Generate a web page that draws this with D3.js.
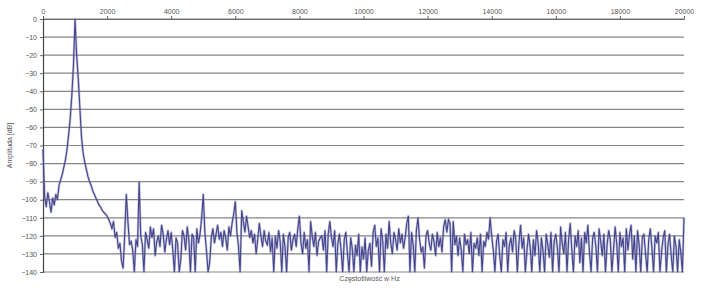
<!DOCTYPE html>
<html lang="en">
<head>
  <meta charset="UTF-8">
  <title>widmo</title>
  <style>
    body { margin: 0; background: #fff; overflow: hidden; }
    .axis text { font-family: "Liberation Sans", Arial, sans-serif; font-size: 7px; fill: #555; }
    .title { font-family: "Liberation Sans", Arial, sans-serif; font-size: 7px; fill: #555; }
  </style>
</head>
<body>
<script src="https://cdn.jsdelivr.net/npm/d3@7"></script>
<script>
// frequency step between samples (Hz)
var step = 50;
// amplitude in dB, one value every 50 Hz from 0 to 20000 Hz (one row = 1000 Hz)
var amplitude = [
  -72, -98, -104, -96, -101, -107, -99, -103, -97, -100, -92, -89, -86, -82, -78, -72, -64, -55, -42, -26,
  0, -20, -33, -49, -65, -74, -79, -83, -87, -90, -92, -95, -97, -99, -101, -103, -104, -106, -107, -108,
  -109, -111, -113, -116, -112, -121, -118, -127, -124, -134, -138, -119, -97, -112, -125, -123, -128, -140, -122, -126,
  -90, -120, -125, -140, -118, -122, -127, -115, -121, -116, -131, -123, -120, -126, -114, -119, -129, -122, -117, -125,
  -118, -128, -140, -121, -124, -140, -133, -117, -120, -128, -115, -122, -140, -119, -121, -140, -116, -124, -119, -110,
  -97, -118, -128, -140, -135, -121, -116, -124, -119, -114, -122, -118, -126, -117, -121, -128, -115, -120, -113, -108,
  -101, -118, -126, -140, -106, -112, -118, -109, -115, -121, -117, -124, -119, -130, -122, -113, -120, -126, -117, -123,
  -125, -118, -129, -121, -140, -120, -127, -117, -123, -140, -119, -126, -140, -121, -118, -128, -122, -119, -126, -116,
  -109, -124, -130, -118, -127, -122, -140, -112, -120, -126, -118, -131, -123, -121, -120, -128, -117, -140, -119, -112,
  -121, -126, -117, -140, -124, -119, -128, -140, -122, -118, -130, -140, -121, -127, -140, -125, -131, -119, -140, -126,
  -133, -121, -140, -128, -124, -137, -118, -114, -126, -121, -140, -116, -123, -140, -119, -127, -112, -124, -130, -118,
  -122, -128, -116, -124, -119, -127, -121, -113, -109, -140, -118, -125, -140, -117, -110, -122, -129, -126, -138, -120,
  -117, -124, -128, -119, -123, -131, -118, -126, -121, -129, -115, -111, -118, -111, -113, -140, -112, -125, -120, -131,
  -121, -128, -140, -119, -125, -122, -130, -118, -140, -124, -127, -121, -131, -119, -140, -123, -126, -118, -122, -110,
  -120, -128, -140, -123, -119, -131, -140, -122, -126, -118, -140, -125, -121, -129, -117, -122, -140, -124, -114, -127,
  -121, -140, -128, -119, -126, -140, -122, -131, -117, -124, -140, -121, -128, -140, -119, -125, -132, -118, -140, -123,
  -119, -127, -140, -115, -124, -130, -118, -140, -122, -113, -128, -140, -120, -126, -117, -135, -121, -140, -118, -124,
  -114, -129, -140, -121, -118, -126, -140, -116, -123, -131, -119, -140, -125, -117, -122, -140, -128, -115, -124, -140,
  -118, -126, -121, -140, -116, -128, -119, -114, -133, -120, -140, -117, -125, -140, -121, -119, -130, -140, -122, -116,
  -127, -140, -120, -124, -118, -140, -129, -121, -117, -140, -125, -119, -131, -140, -120, -126, -140, -122, -129, -140,
  -110
];
var xTicks = [0, 2000, 4000, 6000, 8000, 10000, 12000, 14000, 16000, 18000, 20000];
var yTicks = [0, -10, -20, -30, -40, -50, -60, -70, -80, -90, -100, -110, -120, -130, -140];

var margin = {top: 19, right: 21, bottom: 16, left: 43},
    width = 705 - margin.left - margin.right,
    height = 288 - margin.top - margin.bottom;

var svg = d3.select("body").append("svg")
  .attr("width", 705)
  .attr("height", 288);
var g = svg.append("g")
  .attr("transform", "translate(" + margin.left + "," + margin.top + ")");

var x = d3.scaleLinear().domain([0, 20000]).range([0, width]);
var y = d3.scaleLinear().domain([-140, 0]).range([height, 0]);

// grid
g.selectAll(".grid")
  .data(yTicks)
  .enter().append("line")
  .attr("class", "grid")
  .attr("x1", 0).attr("x2", width)
  .attr("y1", function(d){ return y(d); })
  .attr("y2", function(d){ return y(d); })
  .attr("stroke", "#858585")
  .attr("stroke-width", 1.2);

var xAxis = g.append("g")
  .attr("class", "axis")
  .call(d3.axisTop(x).tickValues(xTicks).tickFormat(d3.format("d")).tickSize(3).tickPadding(2));
xAxis.select(".domain").attr("stroke", "#666");
xAxis.selectAll(".tick line").attr("stroke", "#666");

var yAxis = g.append("g")
  .attr("class", "axis")
  .call(d3.axisLeft(y).tickValues(yTicks).tickSize(3).tickPadding(3));
yAxis.select(".domain").attr("stroke", "#444").attr("stroke-width", 1.2);
yAxis.selectAll(".tick line").attr("stroke", "#666");

var line = d3.line()
  .x(function(d, i){ return x(i * step); })
  .y(function(d){ return y(d); });

g.append("path")
  .datum(amplitude)
  .attr("fill", "none")
  .attr("stroke", "#8080c0")
  .attr("stroke-width", 2.4)
  .attr("stroke-linejoin", "round")
  .attr("opacity", 0.5)
  .attr("d", line);
g.append("path")
  .datum(amplitude)
  .attr("fill", "none")
  .attr("stroke", "#45458a")
  .attr("stroke-width", 1.1)
  .attr("d", line);

svg.append("text")
  .attr("class", "title")
  .attr("x", margin.left + width / 2 + 6)
  .attr("y", 281)
  .attr("text-anchor", "middle")
  .text("Częstotliwość w Hz");

svg.append("text")
  .attr("class", "title")
  .attr("transform", "translate(12," + (margin.top + height / 2) + ") rotate(-90)")
  .attr("text-anchor", "middle")
  .text("Amplituda [dB]");
</script>
</body>
</html>
